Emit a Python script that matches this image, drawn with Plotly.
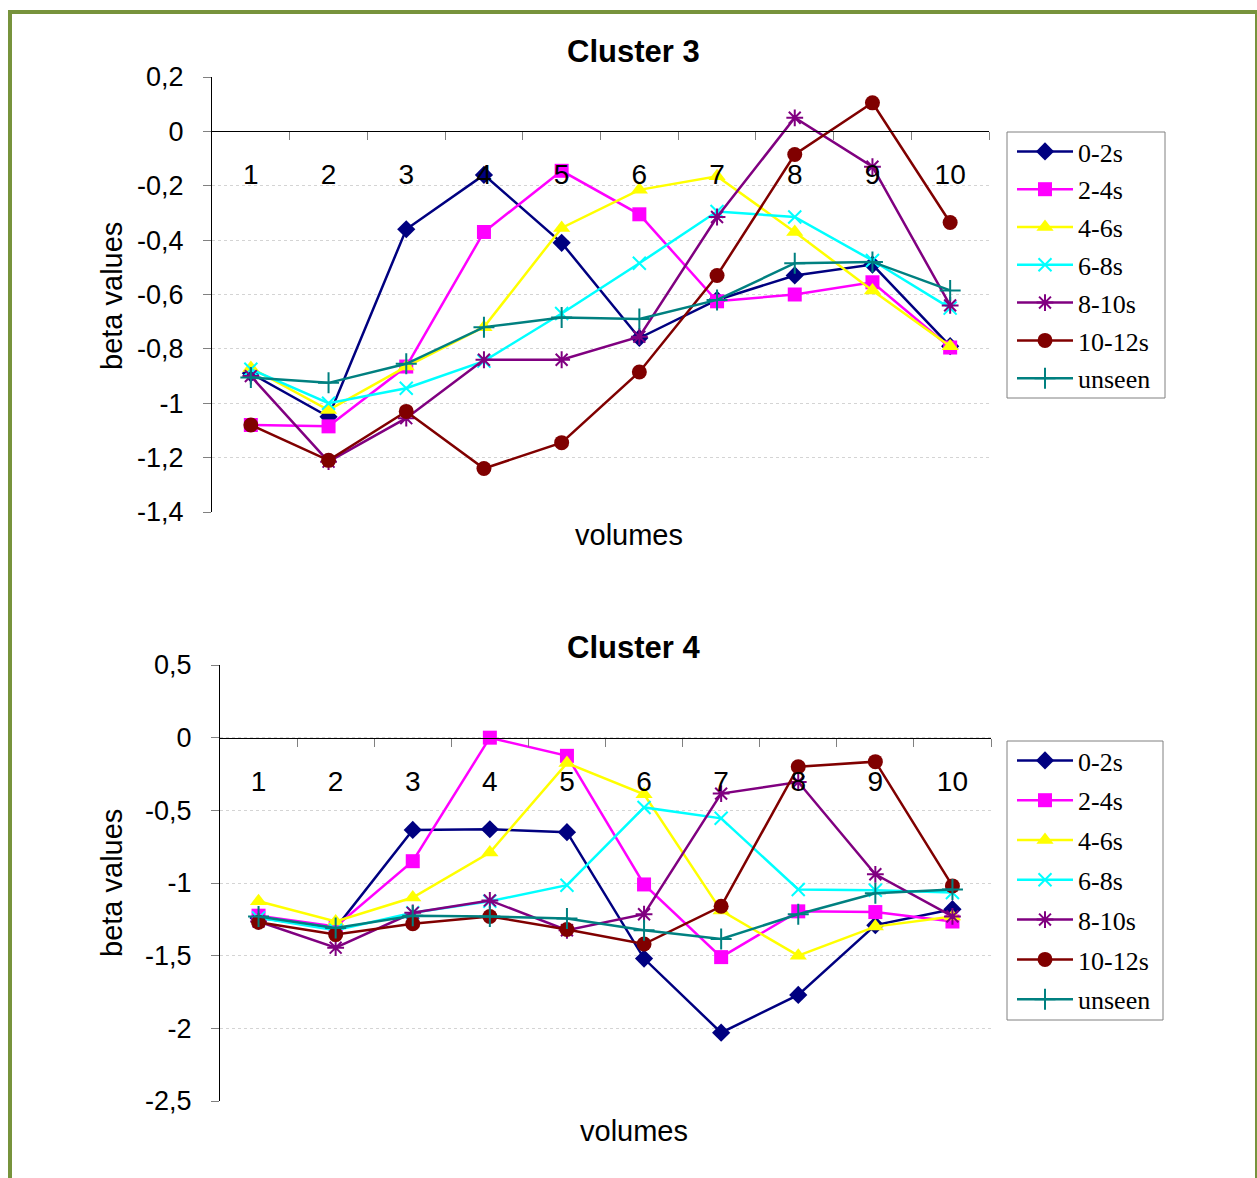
import plotly.graph_objects as go

# ---------------- data ----------------
volumes = [1, 2, 3, 4, 5, 6, 7, 8, 9, 10]
volume_labels = ["1", "2", "3", "4", "5", "6", "7", "8", "9", "10"]
series_names = ["0-2s", "2-4s", "4-6s", "6-8s", "8-10s", "10-12s", "unseen"]

# Cluster 3
c3_0_2 = [-0.89, -1.05, -0.36, -0.16, -0.41, -0.76, -0.62, -0.53, -0.49, -0.79]
c3_2_4 = [-1.08, -1.085, -0.865, -0.37, -0.145, -0.305, -0.625, -0.60, -0.555, -0.795]
c3_4_6 = [-0.87, -1.025, -0.865, -0.72, -0.355, -0.215, -0.165, -0.37, -0.585, -0.79]
c3_6_8 = [-0.875, -1.0, -0.945, -0.845, -0.67, -0.485, -0.295, -0.315, -0.475, -0.65]
c3_8_10 = [-0.90, -1.215, -1.055, -0.84, -0.84, -0.755, -0.315, 0.05, -0.13, -0.64]
c3_10_12 = [-1.08, -1.21, -1.03, -1.24, -1.145, -0.885, -0.53, -0.085, 0.105, -0.335]
c3_unseen = [-0.905, -0.925, -0.855, -0.72, -0.685, -0.69, -0.62, -0.485, -0.48, -0.585]

# Cluster 4
c4_0_2 = [-1.24, -1.31, -0.635, -0.63, -0.65, -1.52, -2.03, -1.77, -1.29, -1.18]
c4_2_4 = [-1.225, -1.30, -0.85, 0.0, -0.125, -1.01, -1.51, -1.195, -1.20, -1.265]
c4_4_6 = [-1.125, -1.265, -1.10, -0.79, -0.175, -0.39, -1.19, -1.50, -1.30, -1.23]
c4_6_8 = [-1.24, -1.325, -1.205, -1.125, -1.015, -0.48, -0.555, -1.045, -1.05, -1.065]
c4_8_10 = [-1.265, -1.445, -1.205, -1.12, -1.325, -1.215, -0.385, -0.305, -0.94, -1.23]
c4_10_12 = [-1.27, -1.355, -1.28, -1.23, -1.32, -1.42, -1.16, -0.20, -0.165, -1.02]
c4_unseen = [-1.23, -1.31, -1.225, -1.23, -1.245, -1.325, -1.385, -1.215, -1.07, -1.045]

c3_series = [c3_0_2, c3_2_4, c3_4_6, c3_6_8, c3_8_10, c3_10_12, c3_unseen]
c4_series = [c4_0_2, c4_2_4, c4_4_6, c4_6_8, c4_8_10, c4_10_12, c4_unseen]

c3_yticks = [0.2, 0, -0.2, -0.4, -0.6, -0.8, -1, -1.2, -1.4]
c3_yticklabels = ["0,2", "0", "-0,2", "-0,4", "-0,6", "-0,8", "-1", "-1,2", "-1,4"]
c4_yticks = [0.5, 0, -0.5, -1, -1.5, -2, -2.5]
c4_yticklabels = ["0,5", "0", "-0,5", "-1", "-1,5", "-2", "-2,5"]

# ---------------- style ----------------
colors = ["#000080", "#FF00FF", "#FFFF00", "#00FFFF", "#800080", "#800000", "#008080"]
symbols = ["diamond", "square", "triangle-up", "x-thin-open", "asterisk-open",
           "circle", "cross-thin-open"]
msizes = [14, 14, 15, 13, 14, 15, 15]

W, H = 1257, 1178


def px(x):
    return x / W


def py(y):
    return 1 - y / H


SANS = "Liberation Sans, Arial, sans-serif"
SERIF = "Liberation Serif, Times New Roman, serif"

fig = go.Figure()

for panel, (series, xa, ya, leg) in enumerate([
        (c3_series, "x", "y", "legend"),
        (c4_series, "x2", "y2", "legend2")]):
    for i, name in enumerate(series_names):
        thin = symbols[i].endswith("open")
        fig.add_trace(go.Scatter(
            x=volumes, y=series[i], name=name, mode="lines+markers",
            xaxis=xa, yaxis=ya, legend=leg, legendgroup=f"{panel}-{i}",
            line=dict(color=colors[i], width=2.5),
            marker=dict(symbol=symbols[i], size=msizes[i], color=colors[i],
                        line=dict(color=colors[i], width=2 if thin else 0)),
        ))

grid = dict(showgrid=True, gridcolor="#d4d4d4", griddash="dot", gridwidth=1)


def xaxis_cfg(x0, x1, ypos):
    return dict(
        domain=[px(x0), px(x1)], range=[0.5, 10.5], anchor="free", position=py(ypos),
        automargin=False,
        showline=True, linecolor="black", linewidth=1, showgrid=False, zeroline=False,
        tickmode="array", tickvals=volumes, ticktext=volume_labels, ticks="",
        ticklabelstandoff=18,
        tickfont=dict(family=SANS, size=28, color="black"),
        minor=dict(tickmode="array", tickvals=[v + 0.5 for v in volumes],
                   ticks="outside", ticklen=8, tickcolor="#808080", tickwidth=1,
                   showgrid=False),
        layer="above traces",
    )


def yaxis_cfg(y0, y1, rng, tv, tt, xa):
    return dict(
        domain=[py(y1), py(y0)], range=rng, anchor=xa, automargin=False,
        showline=True, linecolor="black", linewidth=1, zeroline=False,
        tickmode="array", tickvals=tv, ticktext=tt, ticks="outside", ticklen=8,
        tickcolor="#808080", ticklabelstandoff=14,
        tickfont=dict(family=SANS, size=27, color="black"), **grid,
    )


legend_cfg = dict(
    xanchor="left", yanchor="top", bgcolor="rgba(0,0,0,0)", borderwidth=0,
    font=dict(family=SERIF, size=26, color="black"),
    itemwidth=56, traceorder="grouped",
)

fig.update_layout(
    width=W, height=H, margin=dict(l=0, r=0, t=0, b=0, autoexpand=False),
    paper_bgcolor="white", plot_bgcolor="white", showlegend=True,
    xaxis=xaxis_cfg(212, 989, 131.4),
    yaxis=yaxis_cfg(77, 512, [-1.4, 0.2], c3_yticks, c3_yticklabels, "x"),
    xaxis2=xaxis_cfg(220, 991, 738),
    yaxis2=yaxis_cfg(665, 1101, [-2.5, 0.5], c4_yticks, c4_yticklabels, "x2"),
    legend=dict(x=px(1012), y=py(128), tracegroupgap=1, **legend_cfg),
    legend2=dict(x=px(1012), y=py(737), tracegroupgap=3, **legend_cfg),
)

# legend frames
for (x0, y0, x1, y1) in [(1007, 132, 1165, 398), (1007, 741, 1163, 1020)]:
    fig.add_shape(type="rect", xref="paper", yref="paper",
                  x0=px(x0), x1=px(x1), y0=py(y1), y1=py(y0),
                  line=dict(color="#808080", width=1), fillcolor="white",
                  layer="below")

ann = [
    dict(text="<b>Cluster 3</b>", x=px(633), y=py(52), font=dict(size=31)),
    dict(text="<b>Cluster 4</b>", x=px(633), y=py(647), font=dict(size=31)),
    dict(text="volumes", x=px(629), y=py(535), font=dict(size=29)),
    dict(text="volumes", x=px(634), y=py(1131), font=dict(size=29)),
    dict(text="beta values", x=px(112), y=py(296), font=dict(size=29), textangle=-90),
    dict(text="beta values", x=px(112), y=py(883), font=dict(size=29), textangle=-90),
]
for a in ann:
    a["font"].update(family=SANS, color="black")
    fig.add_annotation(xref="paper", yref="paper", showarrow=False,
                       xanchor="center", yanchor="middle", **a)

# green frame
frame = "#77933C"
fig.add_shape(type="line", xref="paper", yref="paper", x0=px(10), x1=px(10),
              y0=py(10), y1=py(1180), line=dict(color=frame, width=4))
fig.add_shape(type="line", xref="paper", yref="paper", x0=px(8), x1=px(1257),
              y0=py(12), y1=py(12), line=dict(color=frame, width=4))
fig.add_shape(type="line", xref="paper", yref="paper", x0=px(1256), x1=px(1256),
              y0=py(10), y1=py(1180), line=dict(color=frame, width=2))

fig.write_html("out.html")
